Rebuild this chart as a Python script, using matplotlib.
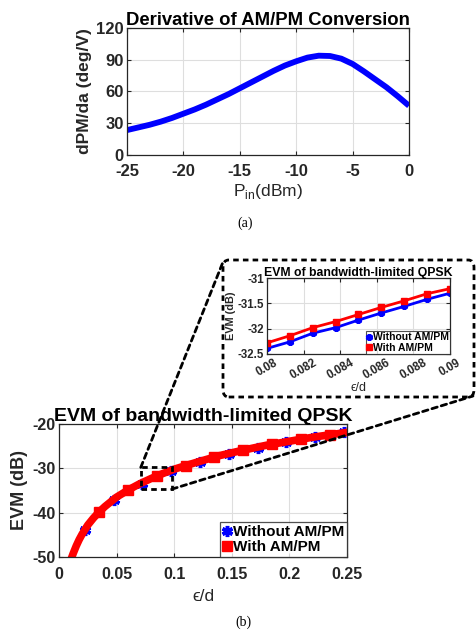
import matplotlib
matplotlib.use("agg")
import matplotlib.pyplot as plt
from matplotlib.patches import FancyBboxPatch, Rectangle, ConnectionPatch

# (a) derivative of the AM/PM conversion
pin_dbm = list(range(-25, 1))
dpm_da = [23.5, 26, 28.5, 31.5, 35, 39, 43, 47.5, 52.5, 57.5,
          63, 68.5, 74, 79.5, 84.5, 88.5, 92, 93.8, 93.5, 91,
          86, 79, 71.5, 64, 55.5, 46.5]

# (b) EVM vs eps/d, full range
eps_line = [0.0105, 0.0125, 0.015, 0.0175, 0.02, 0.025, 0.03, 0.035, 0.04, 0.05,
            0.06, 0.07, 0.08, 0.09, 0.1, 0.12, 0.14, 0.16, 0.18, 0.2, 0.22, 0.25]
evm_with = [-50.5, -49.1, -47.5, -46.1, -44.9, -42.8, -41.2, -39.8, -38.6, -36.5,
            -34.9, -33.5, -32.3, -31.2, -30.2, -28.6, -27.1, -25.9, -24.8, -23.9, -23.0, -21.9]
evm_without = [-50.6, -49.2, -47.6, -46.2, -45.0, -42.9, -41.3, -39.9, -38.7, -36.6,
               -35.0, -33.6, -32.4, -31.3, -30.3, -28.7, -27.2, -26.0, -24.9, -24.0, -23.1, -22.0]
eps_mark_without = [0.0225, 0.0475, 0.0725, 0.0975, 0.1225, 0.1475, 0.1725, 0.1975, 0.2225, 0.2475]
evm_mark_without = [-43.9, -37.1, -33.6, -30.7, -28.6, -26.8, -25.4, -24.1, -23.0, -21.8]
eps_mark_with = [0.035, 0.06, 0.085, 0.11, 0.135, 0.16, 0.185, 0.21, 0.235]
evm_mark_with = [-39.8, -34.9, -31.7, -29.4, -27.4, -25.9, -24.6, -23.45, -22.4]

# zoomed inset 0.08..0.09
eps_zoom = [0.08, 0.08125, 0.0825, 0.08375, 0.085, 0.08625, 0.0875, 0.08875, 0.09]
zoom_without = [-32.39, -32.26, -32.09, -31.98, -31.83, -31.69, -31.56, -31.42, -31.30]
zoom_with = [-32.28, -32.14, -31.98, -31.86, -31.72, -31.58, -31.45, -31.31, -31.21]

plt.rcParams['font.family'] = ['Liberation Sans', 'DejaVu Sans']
plt.rcParams['font.weight'] = 'bold'
plt.rcParams['axes.labelweight'] = 'bold'
plt.rcParams['axes.titleweight'] = 'bold'
plt.rcParams['axes.unicode_minus'] = False
txt = '#262626'


def matlab_axes(ax, size, xpad=5, ypad=2.5):
    ax.grid(True, color='#dedede', lw=0.8)
    ax.set_axisbelow(True)
    ax.tick_params(direction='in', top=True, right=True, labelsize=size,
                   colors=txt, length=3, width=0.8)
    ax.tick_params(axis='x', pad=xpad)
    ax.tick_params(axis='y', pad=ypad)
    for s in ax.spines.values():
        s.set_color(txt)
        s.set_linewidth(0.9)


fig = plt.figure(figsize=(4.76, 6.31), dpi=100)

# ---- (a)
ax1 = fig.add_axes([0.2668, 0.7544, 0.5924, 0.2013])
ax1.plot(pin_dbm, dpm_da, color='blue', lw=4.2, solid_capstyle='butt')
ax1.set_xlim(-25, 0)
ax1.set_ylim(0, 120)
ax1.set_xticks(range(-25, 1, 5))
ax1.set_yticks(range(0, 121, 30))
matlab_axes(ax1, 12, xpad=6.5)
ax1.set_title('Derivative of AM/PM Conversion', fontsize=13.3, color='k', pad=2)
ax1.set_xlabel(r'P$_{\mathregular{in}}$(dBm)', fontsize=12.5, fontweight='normal',
               color=txt, labelpad=2)
ax1.set_ylabel('dPM/da (deg/V)', fontsize=12.5, color=txt, labelpad=3)
fig.text(0.514, 1 - 223 / 631, '(a)', family='Liberation Serif', fontweight='normal',
         fontsize=10, ha='center', va='center')

# ---- (b) main
ax2 = fig.add_axes([0.1239, 0.1173, 0.605, 0.2108])
ax2.plot(eps_line, evm_without, color='blue', lw=3)
ax2.plot(eps_line, evm_with, color='red', lw=5.5)
hb, = ax2.plot(eps_mark_without, evm_mark_without, ls='none', marker=(6, 2, 0),
               ms=8, mew=2.5, color='blue', zorder=1.9)
hr, = ax2.plot(eps_mark_with, evm_mark_with, ls='none', marker='s', ms=7.5,
               color='red')
ax2.set_xlim(0, 0.25)
ax2.set_ylim(-50, -20)
ax2.set_xticks([0, 0.05, 0.1, 0.15, 0.2, 0.25])
ax2.set_xticklabels(['0', '0.05', '0.1', '0.15', '0.2', '0.25'])
ax2.set_yticks([-50, -40, -30, -20])
matlab_axes(ax2, 11.5, xpad=7)
ax2.set_title('EVM of bandwidth-limited QPSK', fontsize=14, color='k', pad=2)
ax2.set_xlabel('ϵ/d', fontsize=12.5, fontweight='normal', color=txt, labelpad=5)
ax2.set_ylabel('EVM (dB)', fontsize=13, color=txt, labelpad=3)
leg = ax2.legend([hb, hr], ['Without AM/PM', 'With AM/PM'], loc='lower right',
                 fontsize=11, handlelength=0.5, handletextpad=0.15, borderpad=0.2,
                 labelspacing=0.05, borderaxespad=0, frameon=True, fancybox=False)
leg.get_frame().set_edgecolor(txt)
leg.get_frame().set_linewidth(0.9)
fig.text(0.512, 1 - 622 / 631, '(b)', family='Liberation Serif', fontweight='normal',
         fontsize=10, ha='center', va='center')

# zoom rectangle on main axes
ax2.add_patch(Rectangle((0.071, -34.7), 0.027, 4.9, fill=False, ls=(0, (2, 1.5)),
                        lw=2, color='k', zorder=5, clip_on=False))

# ---- (b) inset
ax3 = fig.add_axes([0.5609, 0.4390, 0.3845, 0.1204])
ax3.plot(eps_zoom, zoom_without, color='blue', lw=2, marker=(6, 2, 0), ms=5, mew=2,
         label='Without AM/PM')
ax3.plot(eps_zoom, zoom_with, color='red', lw=2, marker='s', ms=4,
         label='With AM/PM')
ax3.set_xlim(0.08, 0.09)
ax3.set_ylim(-32.5, -31)
ax3.set_xticks([0.08, 0.082, 0.084, 0.086, 0.088, 0.09])
ax3.set_xticklabels(['0.08', '0.082', '0.084', '0.086', '0.088', '0.09'], rotation=30)
ax3.set_yticks([-32.5, -32, -31.5, -31])
ax3.set_yticklabels(['-32.5', '-32', '-31.5', '-31'])
matlab_axes(ax3, 8.3, xpad=2, ypad=2)
ax3.set_title('EVM of bandwidth-limited QPSK', fontsize=8.8, color='k', pad=1.5)
ax3.set_xlabel('ϵ/d', fontsize=9, fontweight='normal', color=txt, labelpad=0)
ax3.set_ylabel('EVM (dB)', fontsize=7.8, color=txt, labelpad=1)
leg3 = ax3.legend(loc='lower right', fontsize=7.5, handlelength=0.5, handletextpad=0.1,
                  borderpad=0.1, labelspacing=0.05, borderaxespad=0, fancybox=False)
leg3.get_frame().set_edgecolor(txt)
leg3.get_frame().set_linewidth(0.8)
for h in leg3.legend_handles:
    h.set_linestyle('none')

# dashed box around the inset and connector lines
box = FancyBboxPatch((223 / 476, 1 - 397 / 631), 251 / 476, 137 / 631,
                     boxstyle='round,pad=0,rounding_size=0.012', transform=fig.transFigure,
                     fill=False, ls=(0, (2, 1.5)), lw=2, ec='k')
fig.add_artist(box)
for xy_data, xy_fig in [((0.071, -29.8), (223 / 476, 1 - 262 / 631)),
                        ((0.098, -34.7), (473 / 476, 1 - 396 / 631))]:
    con = ConnectionPatch(xyA=xy_data, coordsA=ax2.transData, xyB=xy_fig,
                          coordsB=fig.transFigure, ls=(0, (2, 1.5)), lw=2, color='k')
    fig.add_artist(con)

fig.savefig('out.png', dpi=100)
